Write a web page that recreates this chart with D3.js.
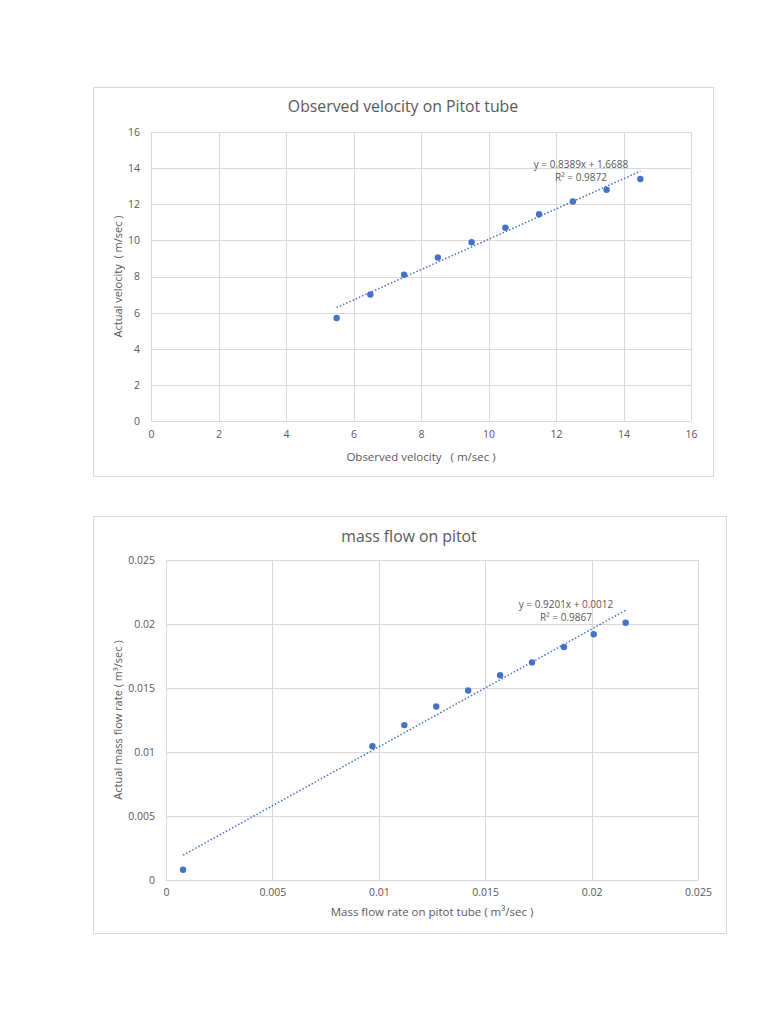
<!DOCTYPE html>
<html>
<head>
<meta charset="utf-8">
<script src="https://cdn.jsdelivr.net/npm/d3@7"></script>
<style>
  body { margin: 0; background: #fff; }
  svg text { font-family: "Open Sans", "Noto Sans", sans-serif; }
</style>
</head>
<body>
<svg id="page" width="768" height="1024"></svg>
<script>
// chart 1 - velocity
const velObserved = [5.5, 6.5, 7.5, 8.5, 9.5, 10.5, 11.5, 12.5, 13.5, 14.5];
const velActual = [5.7, 7.0, 8.1, 9.05, 9.9, 10.7, 11.45, 12.15, 12.8, 13.4];
const velTicks = [0, 2, 4, 6, 8, 10, 12, 14, 16];
const velTrend = [0.8389, 1.6688];   // slope, intercept
const velTrendText = ['y = 0.8389x + 1.6688', 'R² = 0.9872'];

// chart 2 - mass flow
const flowPitot = [0.0008, 0.0097, 0.0112, 0.0127, 0.0142, 0.0157, 0.0172, 0.0187, 0.0201, 0.0216];
const flowActual = [0.0008, 0.01045, 0.0121, 0.01355, 0.0148, 0.016, 0.017, 0.0182, 0.0192, 0.0201];
const flowTicks = [0, 0.005, 0.01, 0.015, 0.02, 0.025];
const flowTrend = [0.9201, 0.0012];
const flowTrendText = ['y = 0.9201x + 0.0012', 'R² = 0.9867'];

const blue = '#4472c4';
const grid = '#d9d9d9';
const labelGray = '#595959';

const svg = d3.select('#page');

function drawScatter(cfg) {
  // chart border
  svg.append('rect')
    .attr('x', cfg.box[0] + 0.5)
    .attr('y', cfg.box[1] + 0.5)
    .attr('width', cfg.box[2] - cfg.box[0])
    .attr('height', cfg.box[3] - cfg.box[1])
    .attr('fill', '#fff')
    .attr('stroke', grid);

  const x = d3.scaleLinear()
    .domain([cfg.ticks[0], cfg.ticks[cfg.ticks.length - 1]])
    .range([cfg.plot[0], cfg.plot[2]]);
  const y = d3.scaleLinear()
    .domain([cfg.ticks[0], cfg.ticks[cfg.ticks.length - 1]])
    .range([cfg.plot[3], cfg.plot[1]]);

  const fmt = d => String(+d.toFixed(3));

  // gridlines
  const g = svg.append('g');
  g.selectAll('.hgrid')
    .data(cfg.ticks)
    .enter()
    .append('line')
    .attr('x1', cfg.plot[0]).attr('x2', cfg.plot[2])
    .attr('y1', d => Math.round(y(d)) + 0.5).attr('y2', d => Math.round(y(d)) + 0.5)
    .attr('stroke', grid);
  g.selectAll('.vgrid')
    .data(cfg.ticks)
    .enter()
    .append('line')
    .attr('y1', cfg.plot[1]).attr('y2', cfg.plot[3])
    .attr('x1', d => Math.round(x(d)) + 0.5).attr('x2', d => Math.round(x(d)) + 0.5)
    .attr('stroke', grid);

  // axes (labels only, lines drawn as grid)
  const xAxis = svg.append('g')
    .attr('transform', `translate(0,${cfg.plot[3] + cfg.xTickOff})`)
    .call(d3.axisBottom(x).tickValues(cfg.ticks).tickFormat(fmt).tickSize(0).tickPadding(4));
  xAxis.select('.domain').remove();
  xAxis.selectAll('text').attr('fill', labelGray).style('font-size', '10.5px');

  const yAxis = svg.append('g')
    .attr('transform', `translate(${cfg.plot[0] - 7},0)`)
    .call(d3.axisLeft(y).tickValues(cfg.ticks).tickFormat(fmt).tickSize(0).tickPadding(4));
  yAxis.select('.domain').remove();
  yAxis.selectAll('text').attr('fill', labelGray).style('font-size', '10.5px');

  // title
  svg.append('text')
    .attr('x', cfg.titlePos[0])
    .attr('y', cfg.titlePos[1])
    .attr('text-anchor', 'middle')
    .attr('fill', labelGray)
    .style('font-size', '15.8px')
    .text(cfg.title);

  // axis titles
  svg.append('text')
    .attr('x', (cfg.plot[0] + cfg.plot[2]) / 2)
    .attr('y', cfg.plot[3] + cfg.xTitleOff)
    .attr('text-anchor', 'middle')
    .attr('fill', labelGray)
    .style('font-size', '11.5px')
    .style('white-space', 'pre')
    .text(cfg.xTitle);

  svg.append('text')
    .attr('transform', `translate(${cfg.yTitleX},${(cfg.plot[1] + cfg.plot[3]) / 2}) rotate(-90)`)
    .attr('text-anchor', 'middle')
    .attr('fill', labelGray)
    .style('font-size', '11px')
    .style('white-space', 'pre')
    .text(cfg.yTitle);

  // trendline over the range of the data
  const xs = cfg.xs;
  const ext = d3.extent(xs);
  const line = d3.line().x(d => x(d)).y(d => y(cfg.trend[0] * d + cfg.trend[1]));
  svg.append('path')
    .datum(ext)
    .attr('d', line)
    .attr('fill', 'none')
    .attr('stroke', blue)
    .attr('stroke-width', 1.5)
    .attr('stroke-dasharray', '1.5,2');

  // points
  svg.append('g')
    .selectAll('circle')
    .data(xs.map((d, i) => [d, cfg.ys[i]]))
    .enter()
    .append('circle')
    .attr('cx', d => x(d[0]))
    .attr('cy', d => y(d[1]))
    .attr('r', 3.2)
    .attr('fill', blue);

  // trendline label
  svg.append('g')
    .selectAll('text')
    .data(cfg.trendText)
    .enter()
    .append('text')
    .attr('x', cfg.trendPos[0])
    .attr('y', (d, i) => cfg.trendPos[1] + i * 13)
    .attr('text-anchor', 'middle')
    .attr('fill', labelGray)
    .style('font-size', '10px')
    .text(d => d);
}

drawScatter({
  box: [93, 87, 713, 476],
  plot: [151, 132, 691, 421],
  ticks: velTicks,
  xs: velObserved,
  ys: velActual,
  trend: velTrend,
  trendText: velTrendText,
  trendPos: [581, 168],
  title: 'Observed velocity on Pitot tube',
  titlePos: [403, 112],
  xTickOff: 6,
  xTitleOff: 40,
  xTitle: 'Observed velocity   ( m/sec )',
  yTitle: 'Actual velocity  ( m/sec )',
  yTitleX: 122
});

drawScatter({
  box: [93, 516, 726, 933],
  plot: [166, 560, 698, 880],
  ticks: flowTicks,
  xs: flowPitot,
  ys: flowActual,
  trend: flowTrend,
  trendText: flowTrendText,
  trendPos: [566, 608],
  title: 'mass flow on pitot',
  titlePos: [409, 542],
  xTickOff: 5,
  xTitleOff: 36,
  xTitle: 'Mass flow rate on pitot tube ( m³/sec )',
  yTitle: 'Actual mass flow rate ( m³/sec )',
  yTitleX: 122
});
</script>
</body>
</html>
